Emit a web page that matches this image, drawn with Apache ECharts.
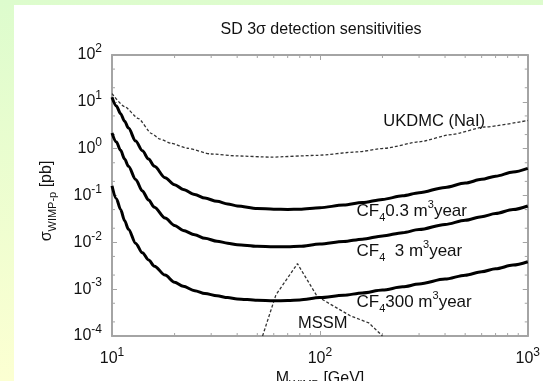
<!DOCTYPE html>
<html>
<head>
<meta charset="utf-8">
<script src="https://cdn.jsdelivr.net/npm/echarts@6/dist/echarts.min.js"></script>
<style>
  html, body { margin: 0; padding: 0; width: 543px; height: 381px; overflow: hidden; }
  #chart { width: 543px; height: 381px; }
</style>
</head>
<body>
<div id="chart"></div>
<script>
// WIMP mass grid (GeV) shared by the three CF4 sensitivity curves
const massGeV = [10, 10.5, 11, 11.5, 12, 13, 14, 15, 16, 18, 20, 22, 25, 28, 32, 36, 40, 50, 60, 70, 80, 100, 130, 160, 200, 250, 300, 400, 500, 600, 700, 850, 1000];
// 3-sigma spin-dependent cross section (pb) for each exposure
const cf4Exp03 = [12.5, 8.1, 5.6, 3.85, 2.75, 1.45, 0.9, 0.6, 0.42, 0.24, 0.17, 0.135, 0.105, 0.088, 0.075, 0.066, 0.060, 0.053, 0.051, 0.0505, 0.051, 0.055, 0.0624, 0.0706, 0.0826, 0.0984, 0.1146, 0.149, 0.1845, 0.221, 0.259, 0.318, 0.38];
const cf4Exp3 = [2.16, 1.38, 0.92, 0.6, 0.42, 0.22, 0.125, 0.08, 0.056, 0.033, 0.023, 0.018, 0.0145, 0.0122, 0.0106, 0.0096, 0.0089, 0.0082, 0.0080, 0.0080, 0.0082, 0.0092, 0.0104, 0.0117, 0.0137, 0.0161, 0.0187, 0.0241, 0.0296, 0.0353, 0.0412, 0.0502, 0.0597];
const cf4Exp300 = [0.16, 0.085, 0.05, 0.029, 0.019, 0.0095, 0.006, 0.0042, 0.0031, 0.002, 0.0014, 0.00115, 0.00093, 0.00081, 0.00072, 0.00066, 0.00062, 0.00058, 0.000565, 0.00057, 0.00059, 0.00066, 0.00074, 0.00083, 0.00096, 0.00112, 0.00129, 0.00164, 0.00199, 0.00235, 0.00272, 0.00327, 0.00385];

// UKDMC (NaI) limit
const ukdmcMass = [10, 11.5, 13.4, 15.5, 17, 19.3, 23, 30, 40, 58, 97, 150, 206, 300, 430, 620, 1000];
const ukdmcSigma = [15, 7.9, 4.4, 2.1, 1.6, 1.3, 1.02, 0.77, 0.70, 0.66, 0.72, 0.85, 1.02, 1.4, 2.0, 2.9, 4.0];

// MSSM region outline
const mssmMass = [53, 61.4, 78, 97, 140, 172, 200];
const mssmSigma = [1e-4, 7.5e-4, 3.5e-3, 7e-4, 2.7e-4, 1.9e-4, 1e-4];

// Curve annotations: anchor (mass, sigma) at the left edge of each text
const noteMass = [202, 150, 150, 150, 78.5];
const noteSigma = [3.9, 0.0467, 0.00637, 0.000519, 0.000189];
const noteText = [
  '{t|UKDMC (NaI)}',
  '{c|CF}{d|4}{c|0.3 m}{u|3}{c|year}',
  '{c|CF}{d|4}{c|  3 m}{u|3}{c|year}',
  '{c|CF}{d|4}{c|300 m}{u|3}{c|year}',
  '{t|MSSM}'
];

// Minor tick positions of the log axes
const xMinorTicks = [];
for (const d of [10, 100]) for (let k = 2; k <= 9; k++) xMinorTicks.push(k * d);
const yMinorTicks = [];
for (let e = -4; e < 2; e++) for (const k of [2, 5]) yMinorTicks.push(k * Math.pow(10, e));

const FONT = 'Liberation Sans';
const INK = '#111111';
const FRAME = '#a4a4a4';

const pair = (xs, ys) => xs.map((x, i) => [x, ys[i]]);
const powLabel = v => '{b|10}{s|' + Math.round(Math.log10(v)) + '}';
const powRich = {
  b: { fontSize: 16, fontFamily: FONT, color: INK, lineHeight: 24 },
  s: { fontSize: 12, fontFamily: FONT, color: INK, lineHeight: 12, verticalAlign: 'top' }
};

const tickData = [];
xMinorTicks.forEach(v => { tickData.push([v, 1, 0]); tickData.push([v, 1, 1]); });
yMinorTicks.forEach(v => { tickData.push([10, v, 2]); tickData.push([10, v, 3]); });

const baseAxis = {
  type: 'log',
  logBase: 10,
  axisLine: { show: true, onZero: false, lineStyle: { color: FRAME, width: 2 } },
  axisTick: { show: true, inside: true, length: 5, lineStyle: { color: FRAME, width: 1 } },
  splitLine: { show: false }
};

const chart = echarts.init(document.getElementById('chart'), null, { renderer: 'canvas' });

chart.setOption({
  animation: false,
  backgroundColor: {
    type: 'linear', x: 0, y: 0, x2: 0, y2: 1,
    colorStops: [{ offset: 0, color: '#ddfccd' }, { offset: 1, color: '#fcffd2' }]
  },
  grid: { left: 112, right: 13, top: 55, bottom: 45, containLabel: false },
  graphic: [
    { type: 'rect', z: -100, silent: true, shape: { x: 14, y: 5, width: 540, height: 390 }, style: { fill: '#ffffff' } },
    {
      type: 'text', x: 321, y: 30, z: 10, silent: true,
      style: { text: 'SD 3σ detection sensitivities', fontSize: 16, fontFamily: FONT, fill: INK, align: 'center', verticalAlign: 'middle' }
    },
    {
      type: 'text', x: 320, y: 379, z: 10, silent: true,
      style: {
        text: '{m|M}{s|WIMP}{m| [GeV]}', align: 'center', verticalAlign: 'middle',
        rich: {
          m: { fontSize: 16, fontFamily: FONT, fill: INK, lineHeight: 22 },
          s: { fontSize: 11, fontFamily: FONT, fill: INK, lineHeight: 11, verticalAlign: 'bottom' }
        }
      }
    },
    {
      type: 'text', x: 47, y: 201, rotation: Math.PI / 2, z: 10, silent: true,
      style: {
        text: '{m|σ}{s|WIMP-p}{m| [pb]}', align: 'center', verticalAlign: 'middle',
        rich: {
          m: { fontSize: 16, fontFamily: FONT, fill: INK, lineHeight: 22 },
          s: { fontSize: 11, fontFamily: FONT, fill: INK, lineHeight: 11, verticalAlign: 'bottom' }
        }
      }
    }
  ],
  xAxis: [
    Object.assign({}, baseAxis, {
      min: 10, max: 1000, splitNumber: 2, position: 'bottom',
      axisLabel: { margin: 11, formatter: powLabel, rich: powRich }
    }),
    Object.assign({}, baseAxis, {
      min: 10, max: 1000, splitNumber: 2, position: 'top',
      axisLabel: { show: false }
    })
  ],
  yAxis: [
    Object.assign({}, baseAxis, {
      min: 1e-4, max: 100, splitNumber: 6, position: 'left',
      axisLabel: { margin: 10, formatter: powLabel, rich: powRich }
    }),
    Object.assign({}, baseAxis, {
      min: 1e-4, max: 100, splitNumber: 6, position: 'right',
      axisLabel: { show: false }
    })
  ],
  series: [
    {
      name: 'minor ticks', type: 'custom', silent: true, clip: false,
      encode: { x: 0, y: 1 },
      data: tickData,
      renderItem(params, api) {
        const cs = params.coordSys;
        const side = api.value(2);
        const p = api.coord([api.value(0), api.value(1)]);
        const L = 3;
        let shape;
        if (side === 0) shape = { x1: p[0], y1: cs.y + cs.height, x2: p[0], y2: cs.y + cs.height - L };
        else if (side === 1) shape = { x1: p[0], y1: cs.y, x2: p[0], y2: cs.y + L };
        else if (side === 2) shape = { x1: cs.x, y1: p[1], x2: cs.x + L, y2: p[1] };
        else shape = { x1: cs.x + cs.width, y1: p[1], x2: cs.x + cs.width - L, y2: p[1] };
        return { type: 'line', shape, style: { stroke: FRAME, lineWidth: 1 } };
      }
    },
    {
      name: 'UKDMC (NaI)', type: 'line', data: pair(ukdmcMass, ukdmcSigma),
      symbol: 'none', smooth: 0.2, smoothMonotone: 'x',
      lineStyle: { color: '#333333', width: 1.3, type: [3, 2] }
    },
    {
      name: 'MSSM', type: 'line', data: pair(mssmMass, mssmSigma),
      symbol: 'none', smooth: false,
      lineStyle: { color: '#333333', width: 1.3, type: [3, 2] }
    },
    {
      name: 'CF4 0.3', type: 'line', data: pair(massGeV, cf4Exp03),
      symbol: 'none', smooth: 0.3, smoothMonotone: 'x',
      lineStyle: { color: '#000000', width: 3 }
    },
    {
      name: 'CF4 3', type: 'line', data: pair(massGeV, cf4Exp3),
      symbol: 'none', smooth: 0.3, smoothMonotone: 'x',
      lineStyle: { color: '#000000', width: 3 }
    },
    {
      name: 'CF4 300', type: 'line', data: pair(massGeV, cf4Exp300),
      symbol: 'none', smooth: 0.3, smoothMonotone: 'x',
      lineStyle: { color: '#000000', width: 3 }
    },
    {
      name: 'notes', type: 'scatter', symbolSize: 0, silent: true, z: 5,
      itemStyle: { opacity: 1 },
      data: noteMass.map((m, i) => ({ value: [m, noteSigma[i]], text: noteText[i] })),
      label: {
        show: true, position: 'right', distance: 0, color: INK, opacity: 1, textBorderWidth: 0,
        formatter: p => p.data.text,
        rich: {
          t: { fontSize: 16.5, fontFamily: FONT, color: INK, lineHeight: 24 },
          c: { fontSize: 17, fontFamily: FONT, color: INK, lineHeight: 24 },
          d: { fontSize: 11, fontFamily: FONT, color: INK, lineHeight: 11, verticalAlign: 'bottom' },
          u: { fontSize: 11, fontFamily: FONT, color: INK, lineHeight: 11, verticalAlign: 'top' }
        }
      }
    }
  ]
});
</script>
</body>
</html>
